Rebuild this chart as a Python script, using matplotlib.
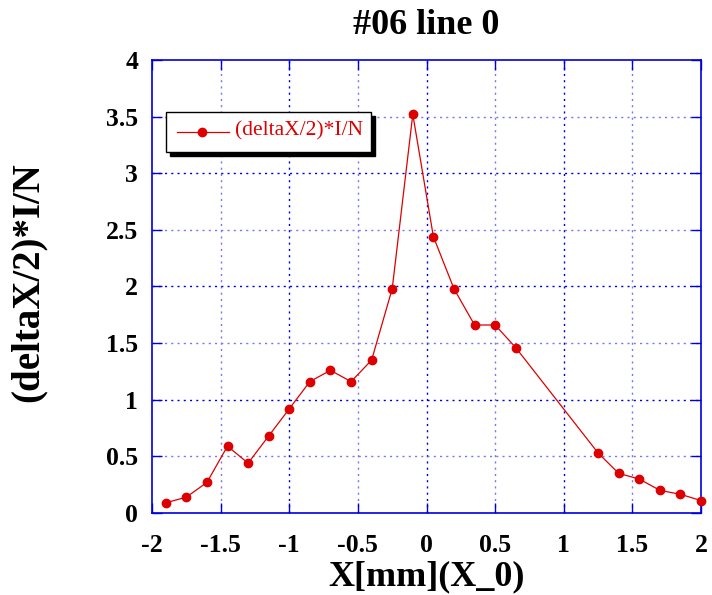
import numpy as np
import matplotlib.pyplot as plt
from matplotlib.patches import Rectangle

plt.rcParams['font.family'] = ['Liberation Serif', 'DejaVu Serif']

x = [-1.9, -1.75, -1.6, -1.45, -1.3, -1.15, -1.0, -0.85, -0.7, -0.55, -0.4,
     -0.25, -0.1, 0.05, 0.2, 0.35, 0.5, 0.65, 1.25, 1.4, 1.55, 1.7, 1.85, 2.0]
y = [0.09, 0.14, 0.27, 0.59, 0.44, 0.68, 0.92, 1.16, 1.26, 1.16, 1.35,
     1.98, 3.52, 2.44, 1.98, 1.66, 1.66, 1.46, 0.53, 0.35, 0.30, 0.20, 0.165, 0.11]
xticks = [-2, -1.5, -1, -0.5, 0, 0.5, 1, 1.5, 2]
xticklabels = ["-2", "-1.5", "-1", "-0.5", "0", "0.5", "1", "1.5", "2"]
yticks = [0, 0.5, 1, 1.5, 2, 2.5, 3, 3.5, 4]
yticklabels = ["0", "0.5", "1", "1.5", "2", "2.5", "3", "3.5", "4"]

red = "#dd0000"
blue = "#0000dd"

fig = plt.figure(figsize=(7.12, 5.95), dpi=100)
ax = fig.add_axes([0.2135, 0.1378, 0.7711, 0.7614])

ax.set_xlim(-2, 2)
ax.set_ylim(0, 4)

# grid: integer lines darker, half lines lighter
for v in xticks[1:-1]:
    c = blue if float(v).is_integer() else "#7777ee"
    ax.axvline(v, color=c, lw=1.0, ls=(0, (1.5, 3)), zorder=1)
for v in yticks[1:-1]:
    c = blue if float(v).is_integer() else "#7777ee"
    ax.axhline(v, color=c, lw=1.0, ls=(0, (1.5, 3)), zorder=1)

line, = ax.plot(x, y, color=red, lw=0.9, marker="o", ms=6, mec=red, mfc=red,
                zorder=3, clip_on=False, label="(deltaX/2)*I/N")

ax.set_xticks(xticks)
ax.set_xticklabels(xticklabels)
ax.set_yticks(yticks)
ax.set_yticklabels(yticklabels)
ax.tick_params(direction="in", length=7, width=1, color=blue,
               top=True, right=True, labelsize=18.5)
ax.tick_params(axis="x", pad=15)
ax.tick_params(axis="y", pad=10)
for lab in ax.get_xticklabels() + ax.get_yticklabels():
    lab.set_fontweight("bold")
for s in ax.spines.values():
    s.set_color(blue)
    s.set_linewidth(1.2)

ax.set_xlabel("X[mm](X_0)", fontsize=26, fontweight="bold")
ax.xaxis.set_label_coords(0.5, -0.105)
ax.set_ylabel("(deltaX/2)*I/N", fontsize=28, fontweight="bold")
ax.yaxis.set_label_coords(-0.191, 0.51)
fig.text(0.599, 1 - 26 / 595, "#06 line 0", ha="center", va="center",
         fontsize=26, fontweight="bold")

# legend box with shadow
lx0, ly0, lw_, lh_ = 166 / 712, 1 - 152 / 595, 205 / 712, 40 / 595
fig.patches.append(Rectangle((lx0 + 4 / 712, ly0 - 4 / 595), lw_, lh_,
                             transform=fig.transFigure, fc="black", ec="black",
                             zorder=5))
fig.patches.append(Rectangle((lx0, ly0), lw_, lh_, transform=fig.transFigure,
                             fc="white", ec="black", lw=1, zorder=6))
fig.add_artist(plt.Line2D([177 / 712, 229 / 712], [ly0 + lh_ / 2] * 2,
                          transform=fig.transFigure, color=red, lw=0.9,
                          zorder=7))
fig.add_artist(plt.Line2D([202 / 712], [ly0 + lh_ / 2], marker="o", ms=6,
                          color=red, transform=fig.transFigure, zorder=7))
fig.text(235 / 712, 1 - 131 / 595, line.get_label(), color=red, fontsize=15.5,
         va="center", ha="left", zorder=8)

fig.savefig("out.png", dpi=100)
